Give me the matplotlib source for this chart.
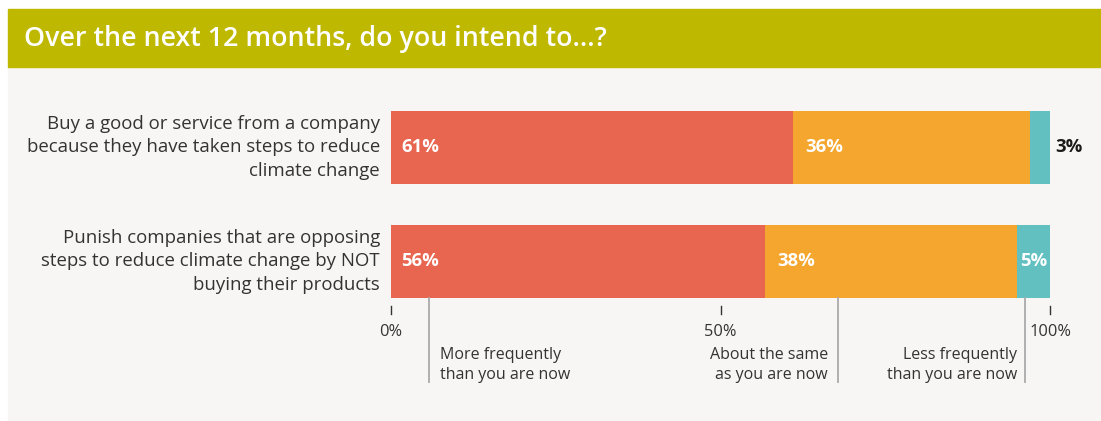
import matplotlib
matplotlib.use("Agg")
import matplotlib.pyplot as plt
from matplotlib.patches import Rectangle

# ---- data ----
categories = [
    "Buy a good or service from a company\nbecause they have taken steps to reduce\nclimate change",
    "Punish companies that are opposing\nsteps to reduce climate change by NOT\nbuying their products",
]
more_freq = [61, 56.8]
same = [36, 38.2]
less_freq = [3, 5.0]
more_labels = ["61%", "56%"]
same_labels = ["36%", "38%"]
less_labels = ["3%", "5%"]
series_names = ["More frequently\nthan you are now",
                "About the same\nas you are now",
                "Less frequently\nthan you are now"]
tick_vals = [0, 50, 100]
tick_labels = ["0%", "50%", "100%"]
title = "Over the next 12 months, do you intend to...?"

RED, ORANGE, TEAL = "#E8664F", "#F5A62E", "#62C0C1"
TITLE_BG, PANEL_BG = "#BFB800", "#F7F6F4"
TXT = "#333333"
FONT = "Open Sans"

W, H = 1101, 421
fig = plt.figure(figsize=(W / 100, H / 100), dpi=100)
fig.patch.set_facecolor("white")

# background panels
fig.patches.append(Rectangle((8 / W, 1 - 421 / H), 1 - 8 / W, (421 - 67) / H,
                             transform=fig.transFigure, color=PANEL_BG, zorder=-5))
fig.patches.append(Rectangle((8 / W, 1 - 67 / H), 1 - 8 / W, (67 - 9) / H,
                             transform=fig.transFigure, color=TITLE_BG, zorder=-5))
fig.text(24 / W, 1 - 39 / H, title, color="white", fontsize=19.3, fontfamily=FONT,
         fontweight="semibold", va="center", ha="left")

# axes: x 391..1050 px ; y: row0 center 147.5 px, row1 center 261.5 px
ax = fig.add_axes([391 / W, 1 - 318.5 / H, (1050 - 391) / W, 228 / H])
ax.set_zorder(5)
ax.set_facecolor("none")
ax.set_xlim(0, 100)
ax.set_ylim(1.5, -0.5)
for s in ax.spines.values():
    s.set_visible(False)
ax.set_xticks([])
ax.set_yticks([])

ys = list(range(len(categories)))
h = 0.64
left2 = [a + b for a, b in zip(more_freq, same)]
ax.barh(ys, more_freq, height=h, color=RED)
ax.barh(ys, same, left=more_freq, height=h, color=ORANGE)
ax.barh(ys, less_freq, left=left2, height=h, color=TEAL)

for i, y in enumerate(ys):
    ax.text(-1.7, y, categories[i], ha="right", va="center", fontsize=13.4,
            fontfamily=FONT, color=TXT, linespacing=1.38, clip_on=False)
    ax.text(1.6, y, more_labels[i], ha="left", va="center", fontsize=13.3,
            fontfamily=FONT, fontweight="bold", color="white")
    ax.text(more_freq[i] + 1.8, y, same_labels[i], ha="left", va="center",
            fontsize=13.3, fontfamily=FONT, fontweight="bold", color="white")
    if less_freq[i] < 4:
        ax.text(100.8, y, less_labels[i], ha="left", va="center", fontsize=13.3,
                fontfamily=FONT, fontweight="bold", color="#1a1a1a", clip_on=False)
    else:
        ax.text(left2[i] + 0.5, y, less_labels[i], ha="left", va="center",
                fontsize=13.3, fontfamily=FONT, fontweight="bold", color="white")

# ticks
for v, lab in zip(tick_vals, tick_labels):
    ax.plot([v, v], [1.39, 1.46], color=TXT, lw=1, clip_on=False)
    ax.text(v, 1.62, lab, ha="center", va="center", fontsize=11.8,
            fontfamily=FONT, color=TXT, clip_on=False)

# legend leader lines and labels
leader_x = [5.8, 67.8, 96.2]
text_x = [7.4, 66.3, 95.0]
aligns = ["left", "right", "right"]
for lx, tx, al, name in zip(leader_x, text_x, aligns, series_names):
    ax.plot([lx, lx], [1.32, 2.06], color="#aaaaaa", lw=1.3, clip_on=False)
    ax.text(tx, 1.91, name, ha=al, va="center", fontsize=11.5, fontfamily=FONT,
            color=TXT, linespacing=1.33, clip_on=False)

fig.savefig("out.png", dpi=100, facecolor="white")
